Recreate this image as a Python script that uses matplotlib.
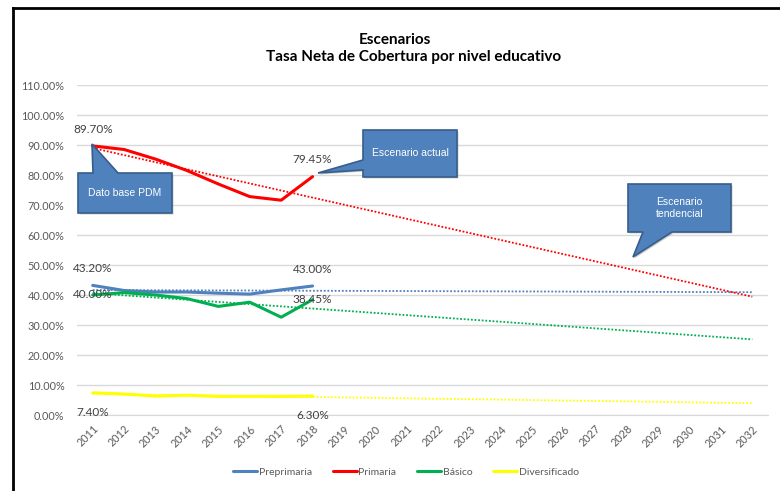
import numpy as np
import matplotlib
matplotlib.use("Agg")
import matplotlib.pyplot as plt
from matplotlib.patches import Polygon
from matplotlib.lines import Line2D

# Net coverage rate by education level, observed 2011-2018, with linear trends to 2032
years = [str(y) for y in range(2011, 2033)]
n_obs = 8

preprimaria = [43.20, 41.5, 41.0, 41.0, 40.6, 40.3, 41.7, 43.00]
primaria = [89.70, 88.5, 85.3, 81.5, 77.0, 72.8, 71.6, 79.45]
basico = [40.00, 40.8, 40.0, 38.8, 36.2, 37.6, 32.6, 38.45]
diversificado = [7.40, 7.0, 6.3, 6.6, 6.2, 6.2, 6.2, 6.30]

series_names = ["Preprimaria", "Primaria", "Básico", "Diversificado"]
series_colors = ["#4F81BD", "#FF0000", "#00B050", "#FFFF00"]

# (first label offset, last label offset) in points: + above, - below, 0 on the point
label_offsets = [(12, 12), (12, 12), (0, 0), (-14, -14)]

W, H = 780, 491
plt.rcParams["font.family"] = ["Lato", "DejaVu Sans"]

fig = plt.figure(figsize=(W / 100, H / 100), dpi=100)
ax = fig.add_axes([77 / W, 1 - 415 / H, (768 - 77) / W, (415 - 85) / H])


def px(x, y):
    """pixel position (top-left origin) -> figure fraction"""
    return x / W, 1 - y / H


x_all = np.arange(len(years))
x_obs = x_all[:n_obs]

data = [preprimaria, primaria, basico, diversificado]

# dotted linear trend lines first, so the observed lines sit on top
for vals, color in zip(data, series_colors):
    coef = np.polyfit(x_obs, vals, 1)
    ax.plot(x_all, np.polyval(coef, x_all), color=color, lw=1.3,
            linestyle=(0, (1, 1)), zorder=2)

for vals, color, name, offs in zip(data, series_colors, series_names, label_offsets):
    ax.plot(x_obs, vals, color=color, lw=2.2, label=name, zorder=3,
            solid_capstyle="round", solid_joinstyle="round")
    for idx, off in zip((0, n_obs - 1), offs):
        ax.annotate(f"{vals[idx]:.2f}%", (x_obs[idx], vals[idx]),
                    xytext=(0, off), textcoords="offset points",
                    ha="center", va="center", fontsize=8.5, color="#404040",
                    zorder=5)

ax.set_xlim(-0.5, len(years) - 0.5)
ax.set_ylim(0, 110)
ax.set_yticks(np.arange(0, 111, 10))
ax.set_yticklabels([f"{v:.2f}%" for v in np.arange(0, 111, 10)])
ax.set_xticks(x_all)
ax.set_xticklabels(years, rotation=45, ha="right", rotation_mode="anchor")
ax.tick_params(axis="both", length=0, labelsize=7.8, labelcolor="#595959")
ax.tick_params(axis="x", pad=6)
ax.tick_params(axis="y", pad=9)
ax.grid(axis="y", color="#D9D9D9", lw=1)
ax.set_axisbelow(True)
for side in ["top", "right", "left"]:
    ax.spines[side].set_visible(False)
ax.spines["bottom"].set_color("#D9D9D9")

fig.text(395 / W, 1 - 40 / H, "Escenarios", ha="center", va="center",
         fontsize=11, fontweight="bold", color="#000000")
fig.text(414 / W, 1 - 57 / H, "Tasa Neta de Cobertura por nivel educativo",
         ha="center", va="center", fontsize=11, fontweight="bold",
         color="#000000")

fig.legend(loc="center", bbox_to_anchor=px(406, 472), ncol=4, frameon=False,
           fontsize=7.5, handlelength=2.3, handletextpad=0.15,
           columnspacing=2.0, labelcolor="#595959")


def callout(box, tip, base, side, text):
    x0, y0, x1, y1 = box
    b1, b2 = base
    if side == "top":
        pts = [(x0, y0), (b1, y0), tip, (b2, y0), (x1, y0), (x1, y1), (x0, y1)]
    elif side == "bottom":
        pts = [(x0, y0), (x1, y0), (x1, y1), (b2, y1), tip, (b1, y1), (x0, y1)]
    else:  # left
        pts = [(x0, y0), (x1, y0), (x1, y1), (x0, y1), (x0, b2), tip, (x0, b1)]
    shadow = Polygon([px(x + 1.5, y + 1.5) for x, y in pts], closed=True,
                     transform=fig.transFigure, facecolor="#9a9a9a",
                     edgecolor="none", alpha=0.5, zorder=6)
    shape = Polygon([px(x, y) for x, y in pts], closed=True,
                    transform=fig.transFigure, facecolor="#4F81BD",
                    edgecolor="#385D8A", lw=1.2, zorder=7)
    fig.add_artist(shadow)
    fig.add_artist(shape)
    fig.text(*px((x0 + x1) / 2, (y0 + y1) / 2), text, ha="center",
             va="center", color="white", fontsize=7.5, linespacing=1.3,
             family=["Liberation Sans Narrow", "Liberation Sans"], zorder=8)


callout((78, 173, 172, 213), (92, 144), (93, 118), "top", "Dato base PDM")
callout((363, 130, 457, 177), (318, 173), (160, 170), "left", "Escenario actual")
callout((628, 184, 731, 232), (633, 257), (643, 672), "bottom",
        "Escenario\ntendencial")

# frame lines along the top and left edge of the image
fig.add_artist(Line2D([13 / W, 1], [1 - 7.5 / H] * 2, color="black", lw=2,
                      transform=fig.transFigure))
fig.add_artist(Line2D([13 / W] * 2, [0, 1 - 7.5 / H], color="black", lw=2,
                      transform=fig.transFigure))

fig.savefig("out.png", dpi=100)
